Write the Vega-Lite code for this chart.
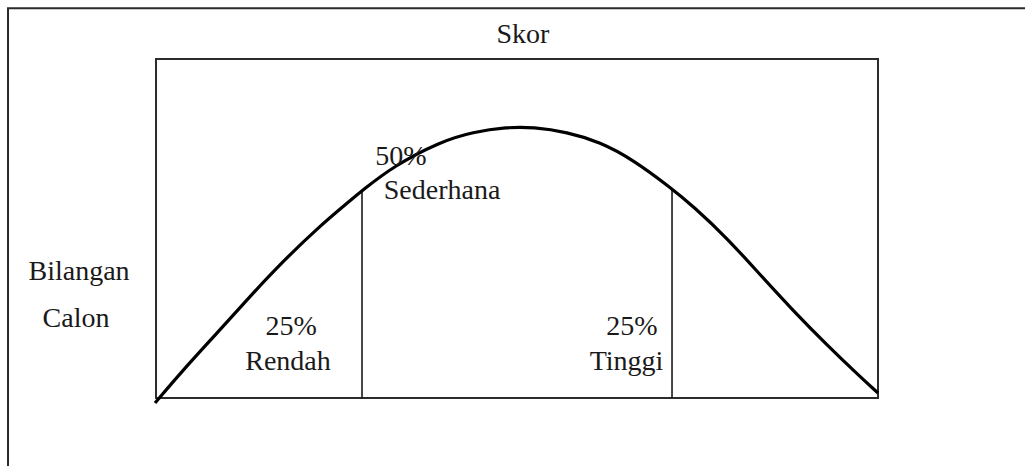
{
  "$schema": "https://vega.github.io/schema/vega-lite/v6.json",
  "width": 1025,
  "height": 466,
  "autosize": {"type": "fit", "contains": "padding"},
  "padding": 0,
  "background": "white",
  "config": {"view": {"stroke": null}},
  "datasets": {
    "curve": [
      {"x": -0.14, "y": -1.47},
      {"x": 3.74, "y": 8.26},
      {"x": 8.45, "y": 19.17},
      {"x": 13.02, "y": 30.0},
      {"x": 17.59, "y": 40.3},
      {"x": 22.3, "y": 50.0},
      {"x": 26.87, "y": 58.2},
      {"x": 28.67, "y": 61.36},
      {"x": 32.83, "y": 68.3},
      {"x": 39.34, "y": 75.6},
      {"x": 43.91, "y": 78.47},
      {"x": 48.61, "y": 79.9},
      {"x": 52.22, "y": 79.9},
      {"x": 56.93, "y": 78.47},
      {"x": 61.5, "y": 75.52},
      {"x": 66.07, "y": 70.3},
      {"x": 71.19, "y": 62.2},
      {"x": 74.38, "y": 56.6},
      {"x": 79.09, "y": 47.2},
      {"x": 83.66, "y": 36.4},
      {"x": 88.23, "y": 25.8},
      {"x": 92.94, "y": 15.6},
      {"x": 97.51, "y": 6.3},
      {"x": 100, "y": 1.47}
    ],
    "frames": [
      {"name": "outer", "x": -20.5, "x2": 125, "y": -30, "y2": 115},
      {"name": "inner", "x": 0, "x2": 100, "y": 0, "y2": 100}
    ],
    "dividers": [
      {"x": 28.53, "y": 0, "y2": 61.4},
      {"x": 71.47, "y": 0, "y2": 61.4}
    ],
    "labels": [
      {"text": "Skor", "x": 50.83, "y": 104.7},
      {"text": "Bilangan", "x": -10.66, "y": 34.8},
      {"text": "Calon", "x": -11.08, "y": 20.94},
      {"text": "50%", "x": 33.93, "y": 68.73},
      {"text": "Sederhana", "x": 39.61, "y": 58.7},
      {"text": "25%", "x": 18.7, "y": 18.58},
      {"text": "Rendah", "x": 18.28, "y": 8.26},
      {"text": "25%", "x": 65.93, "y": 18.58},
      {"text": "Tinggi", "x": 65.17, "y": 8.26}
    ]
  },
  "layer": [
    {
      "data": {"name": "frames"},
      "mark": {"type": "rect", "fill": null, "stroke": "#2b2b2b", "strokeWidth": 2, "clip": true},
      "encoding": {
        "x": {"field": "x", "type": "quantitative", "scale": {"domain": [-21.61, 120.36], "nice": false, "zero": false}, "axis": null},
        "x2": {"field": "x2"},
        "y": {"field": "y", "type": "quantitative", "scale": {"domain": [-20.06, 117.4], "nice": false, "zero": false}, "axis": null},
        "y2": {"field": "y2"}
      }
    },
    {
      "data": {"name": "dividers"},
      "mark": {"type": "rule", "stroke": "#1a1a1a", "strokeWidth": 1.6},
      "encoding": {
        "x": {"field": "x", "type": "quantitative"},
        "y": {"field": "y", "type": "quantitative"},
        "y2": {"field": "y2"}
      }
    },
    {
      "data": {"name": "curve"},
      "mark": {"type": "line", "stroke": "black", "strokeWidth": 3.2, "interpolate": "basis"},
      "encoding": {
        "x": {"field": "x", "type": "quantitative"},
        "y": {"field": "y", "type": "quantitative"}
      }
    },
    {
      "data": {"name": "labels"},
      "mark": {"type": "text", "font": "Liberation Serif", "fontSize": 28, "color": "#1a1a1a", "align": "center", "baseline": "alphabetic"},
      "encoding": {
        "x": {"field": "x", "type": "quantitative"},
        "y": {"field": "y", "type": "quantitative"},
        "text": {"field": "text"}
      }
    }
  ]
}
